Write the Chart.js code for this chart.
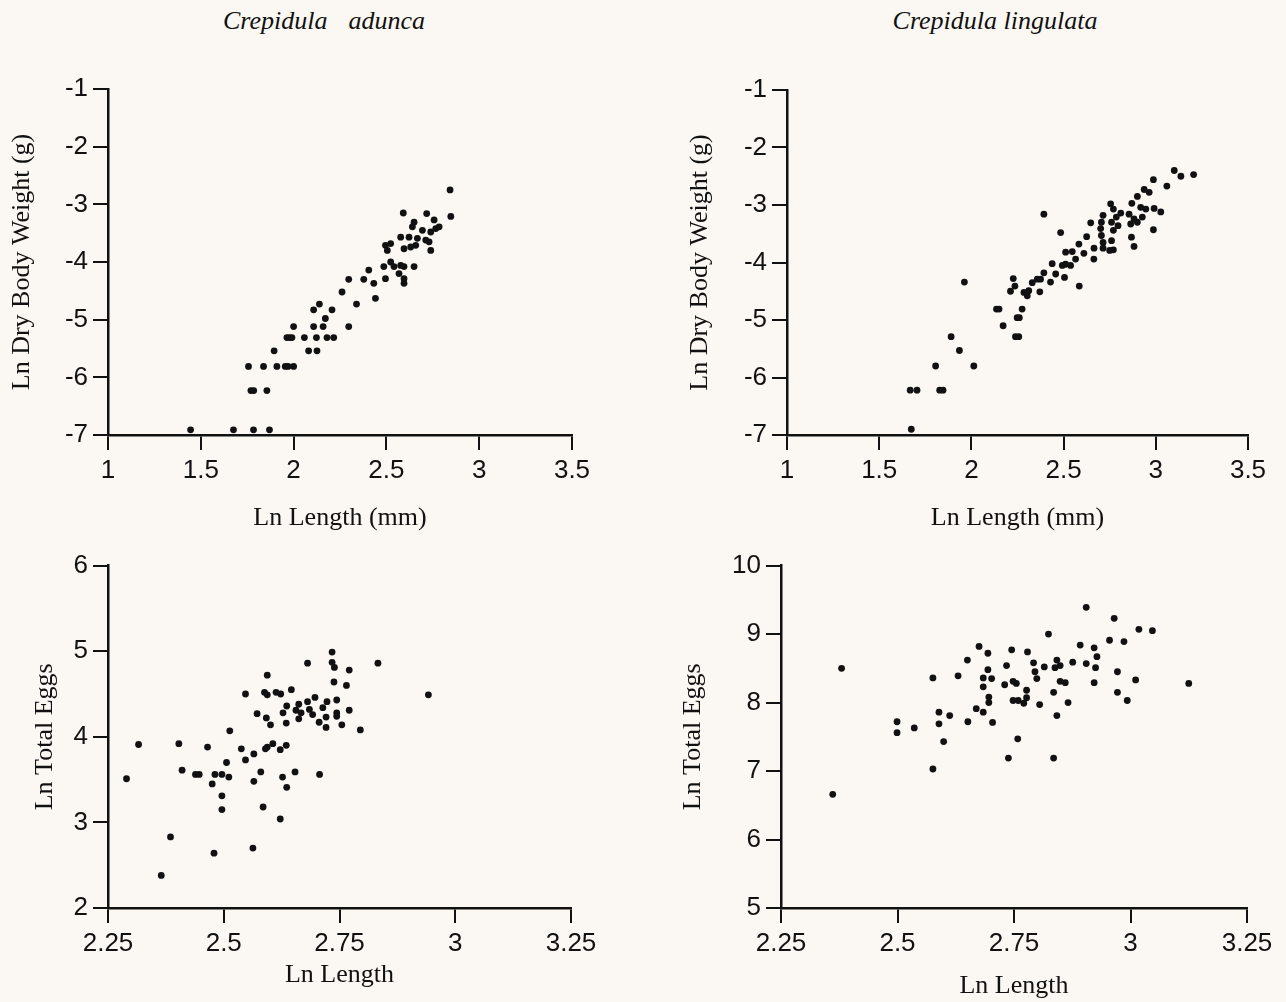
<!DOCTYPE html>
<html>
<head>
<meta charset="utf-8">
<script src="https://cdn.jsdelivr.net/npm/chart.js@4.4.1/dist/chart.umd.min.js"></script>
<style>
  html, body { margin: 0; padding: 0; background: #fbf8f3; }
  #page { position: relative; width: 1286px; height: 1002px; overflow: hidden; background: #fbf8f3; }
  canvas { position: absolute; }
  .species { position: absolute; top: 6px; width: 400px; line-height: 30px; text-align: center;
             font-family: "Liberation Serif", serif; font-style: italic; font-size: 26px; color: #111;
             white-space: pre; }
</style>
</head>
<body>
<div id="page">
  <div class="species" style="left:124px; word-spacing:4px;">Crepidula  adunca</div>
  <div class="species" style="left:795px;">Crepidula lingulata</div>
  <canvas id="c1" width="643" height="505" style="left:0px; top:40px;"></canvas>
  <canvas id="c2" width="643" height="505" style="left:643px; top:40px;"></canvas>
  <canvas id="c3" width="643" height="457" style="left:0px; top:545px;"></canvas>
  <canvas id="c4" width="643" height="457" style="left:643px; top:545px;"></canvas>
</div>
<script>
// C. adunca: ln length vs ln dry body weight
const adLen = [2.843, 2.847, 2.591, 2.717, 2.649, 2.757, 2.640, 2.694, 2.766, 2.784, 2.739, 2.622, 2.667, 2.712,
  2.577, 2.595, 2.631, 2.658, 2.739, 2.730, 2.495, 2.523, 2.505, 2.486, 2.523, 2.541, 2.577, 2.595, 2.649,
  2.568, 2.595, 2.595, 2.495, 2.405, 2.378, 2.432, 2.297, 2.261, 2.441, 2.339, 2.297, 2.139, 2.108, 2.207,
  2.171, 2.108, 2.159, 2.000, 1.964, 1.978, 1.991, 2.058, 2.123, 2.180, 2.216, 2.081, 2.126, 1.895, 1.757,
  1.838, 1.910, 1.955, 1.970, 2.000, 1.770, 1.785, 1.856, 1.445, 1.676, 1.784, 1.870];
const adWeight = [-2.75, -3.21, -3.15, -3.16, -3.31, -3.27, -3.39, -3.45, -3.42, -3.39, -3.48, -3.57, -3.59, -3.62,
  -3.57, -3.77, -3.74, -3.71, -3.80, -3.65, -3.71, -3.68, -3.80, -4.08, -4.00, -4.08, -4.06, -4.08, -4.08,
  -4.20, -4.29, -4.37, -4.29, -4.14, -4.30, -4.37, -4.30, -4.52, -4.63, -4.73, -5.12, -4.73, -4.83, -4.83,
  -4.98, -5.12, -5.12, -5.12, -5.31, -5.31, -5.31, -5.31, -5.31, -5.31, -5.31, -5.54, -5.54, -5.54, -5.81,
  -5.81, -5.81, -5.81, -5.81, -5.81, -6.23, -6.23, -6.23, -6.91, -6.91, -6.91, -6.91];

// C. lingulata: ln length vs ln dry body weight
const liLen = [3.100, 3.136, 3.205, 2.987, 3.060, 2.937, 2.964, 2.900, 2.870, 2.755, 2.770, 2.810, 2.918, 2.946,
  2.991, 3.027, 2.855, 2.882, 2.864, 2.900, 2.927, 2.987, 2.868, 2.882, 2.714, 2.705, 2.701, 2.705, 2.714,
  2.714, 2.760, 2.770, 2.760, 2.750, 2.770, 2.795, 2.786, 2.647, 2.625, 2.665, 2.664, 2.583, 2.610, 2.565,
  2.547, 2.511, 2.484, 2.511, 2.493, 2.538, 2.438, 2.505, 2.457, 2.393, 2.429, 2.375, 2.357, 2.330, 2.371,
  2.311, 2.303, 2.285, 2.227, 2.236, 2.212, 2.585, 2.393, 2.136, 2.150, 2.275, 2.248, 2.260, 2.172, 2.239,
  2.257, 1.962, 1.890, 1.935, 1.806, 2.013, 1.668, 1.705, 1.828, 1.846, 1.674];
const liWeight = [-2.40, -2.50, -2.47, -2.56, -2.67, -2.73, -2.78, -2.85, -2.97, -2.98, -3.07, -3.14, -3.04, -3.07,
  -3.06, -3.12, -3.16, -3.24, -3.33, -3.30, -3.21, -3.43, -3.56, -3.72, -3.18, -3.30, -3.41, -3.53, -3.65,
  -3.75, -3.30, -3.44, -3.62, -3.79, -3.78, -3.36, -3.21, -3.31, -3.55, -3.75, -3.94, -3.68, -3.84, -3.94,
  -3.81, -3.82, -3.48, -4.03, -4.05, -4.05, -4.02, -4.26, -4.20, -4.18, -4.34, -4.29, -4.29, -4.35, -4.51,
  -4.49, -4.58, -4.52, -4.28, -4.41, -4.50, -4.41, -3.16, -4.81, -4.81, -4.81, -4.96, -4.96, -5.10, -5.29,
  -5.29, -4.34, -5.29, -5.53, -5.80, -5.80, -6.22, -6.22, -6.22, -6.22, -6.90];

// C. adunca: ln length vs ln total eggs
const adEggLen = [2.734, 2.681, 2.734, 2.739, 2.771, 2.833, 2.738, 2.765, 2.942, 2.594, 2.547, 2.588, 2.594, 2.613,
  2.623, 2.646, 2.636, 2.662, 2.681, 2.697, 2.723, 2.744, 2.714, 2.656, 2.667, 2.685, 2.692, 2.662, 2.628,
  2.572, 2.592, 2.601, 2.635, 2.706, 2.721, 2.721, 2.744, 2.744, 2.755, 2.771, 2.795, 2.513, 2.316, 2.403,
  2.465, 2.538, 2.565, 2.547, 2.590, 2.594, 2.606, 2.622, 2.635, 2.506, 2.290, 2.410, 2.439, 2.447, 2.481,
  2.496, 2.511, 2.475, 2.580, 2.565, 2.627, 2.654, 2.707, 2.636, 2.496, 2.496, 2.585, 2.622, 2.385, 2.479,
  2.563, 2.365];
const adEggs = [4.99, 4.86, 4.87, 4.81, 4.78, 4.86, 4.64, 4.60, 4.49, 4.72, 4.50, 4.52, 4.49, 4.52,
  4.50, 4.55, 4.36, 4.38, 4.41, 4.46, 4.41, 4.43, 4.34, 4.31, 4.28, 4.32, 4.26, 4.21, 4.28,
  4.27, 4.22, 4.14, 4.16, 4.17, 4.23, 4.11, 4.28, 4.24, 4.14, 4.31, 4.08, 4.07, 3.91, 3.92,
  3.88, 3.86, 3.80, 3.73, 3.86, 3.88, 3.92, 3.85, 3.90, 3.70, 3.51, 3.61, 3.56, 3.56, 3.56,
  3.56, 3.53, 3.45, 3.59, 3.48, 3.53, 3.59, 3.56, 3.41, 3.31, 3.15, 3.18, 3.04, 2.83, 2.64,
  2.70, 2.38];

// C. lingulata: ln length vs ln total eggs
const liEggLen = [2.905, 2.965, 3.018, 3.047, 2.824, 2.892, 2.922, 2.955, 2.986, 2.928, 2.675, 2.694, 2.745, 2.779,
  2.650, 2.734, 2.792, 2.815, 2.842, 2.849, 2.838, 2.876, 2.905, 2.925, 2.972, 2.380, 2.576, 2.630, 2.694,
  2.702, 2.684, 2.684, 2.748, 2.755, 2.730, 2.795, 2.799, 2.849, 2.860, 2.922, 3.011, 3.125, 2.696, 2.696,
  2.748, 2.759, 2.777, 2.777, 2.771, 2.805, 2.835, 2.866, 2.972, 2.993, 2.669, 2.684, 2.704, 2.651, 2.589,
  2.589, 2.612, 2.499, 2.499, 2.536, 2.599, 2.842, 2.758, 2.738, 2.835, 2.576, 2.361];
const liEggs = [9.39, 9.23, 9.07, 9.05, 9.00, 8.84, 8.80, 8.91, 8.89, 8.67, 8.82, 8.72, 8.77, 8.74,
  8.62, 8.54, 8.58, 8.52, 8.62, 8.54, 8.51, 8.59, 8.57, 8.51, 8.45, 8.50, 8.36, 8.39, 8.48,
  8.35, 8.36, 8.23, 8.31, 8.28, 8.26, 8.45, 8.35, 8.31, 8.29, 8.29, 8.33, 8.28, 8.08, 8.00,
  8.03, 8.03, 8.18, 8.07, 7.99, 7.97, 8.15, 8.00, 8.15, 8.03, 7.91, 7.86, 7.71, 7.72, 7.86,
  7.69, 7.81, 7.72, 7.56, 7.63, 7.43, 7.81, 7.47, 7.19, 7.19, 7.03, 6.66];

const ink = '#111111';
const tickFont = { family: '"Liberation Sans", Arial, sans-serif', size: 26 };
const titleFont = { family: '"Liberation Serif", "Times New Roman", serif', size: 26, lineHeight: 1.2 };

function axis(a, horizontal) {
  return {
    type: 'linear',
    min: a.min,
    max: a.max,
    afterFit: s => { if (horizontal) s.height = a.size; else s.width = a.size; },
    ticks: {
      stepSize: a.step, autoSkip: false, maxRotation: 0, color: ink, padding: 5, font: tickFont,
      callback: v => String(Number(v.toFixed(2)))
    },
    grid: { drawOnChartArea: false, drawTicks: true, tickLength: 15, color: ink, lineWidth: 2 },
    border: { display: true, color: ink, width: 2.5 },
    title: { display: true, text: a.title, color: ink, font: titleFont, padding: a.tpad }
  };
}

function drawPanel(id, xs, ys, pad, xAxis, yAxis) {
  const pts = xs.map((x, i) => ({ x: x, y: ys[i] }));
  return new Chart(document.getElementById(id), {
    type: 'scatter',
    data: {
      datasets: [{
        data: pts,
        backgroundColor: ink,
        borderColor: ink,
        borderWidth: 0,
        pointRadius: 3.4,
        pointHoverRadius: 3.4
      }]
    },
    options: {
      responsive: false,
      animation: false,
      devicePixelRatio: 1,
      layout: { padding: pad },
      plugins: { legend: { display: false }, tooltip: { enabled: false } },
      scales: { x: axis(xAxis, true), y: axis(yAxis, false) }
    }
  });
}

drawPanel('c1', adLen, adWeight, { left: 0, top: 49, right: 71, bottom: 0 },
  { min: 1, max: 3.5, step: 0.5, size: 110, title: 'Ln Length (mm)', tpad: { top: 0, bottom: 11.4 } },
  { min: -7, max: -1, step: 1, size: 108, title: 'Ln Dry Body Weight (g)', tpad: { top: 6.4, bottom: 0 } });

drawPanel('c2', liLen, liWeight, { left: 0, top: 50, right: 38, bottom: 0 },
  { min: 1, max: 3.5, step: 0.5, size: 110, title: 'Ln Length (mm)', tpad: { top: 0, bottom: 11.4 } },
  { min: -7, max: -1, step: 1, size: 144, title: 'Ln Dry Body Weight (g)', tpad: { top: 41.4, bottom: 0 } });

drawPanel('c3', adEggLen, adEggs, { left: 0, top: 16, right: 72, bottom: 0 },
  { min: 2.25, max: 3.25, step: 0.25, size: 94, title: 'Ln Length', tpad: { top: 0, bottom: 11.4 } },
  { min: 2, max: 6, step: 1, size: 108, title: 'Ln Total Eggs', tpad: { top: 29.4, bottom: 0 } });

drawPanel('c4', liEggLen, liEggs, { left: 0, top: 16, right: 39, bottom: 0 },
  { min: 2.25, max: 3.25, step: 0.25, size: 94, title: 'Ln Length', tpad: { top: 0, bottom: 0 } },
  { min: 5, max: 10, step: 1, size: 138, title: 'Ln Total Eggs', tpad: { top: 34.4, bottom: 0 } });
</script>
</body>
</html>
